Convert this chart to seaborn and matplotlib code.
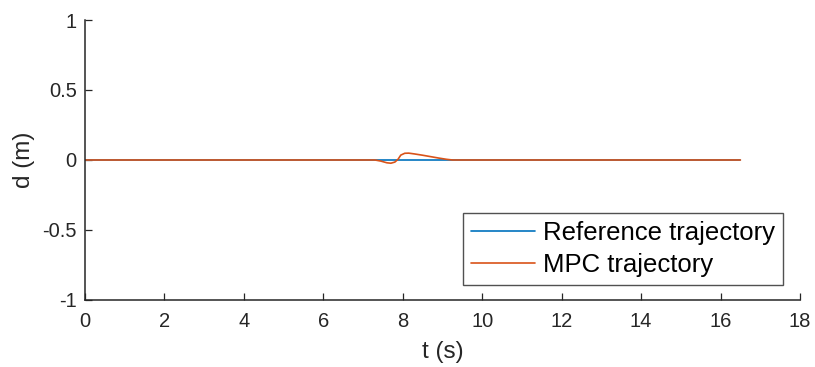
import matplotlib
matplotlib.use("Agg")
import matplotlib.pyplot as plt
import seaborn as sns
import pandas as pd

# Lateral deviation d over time t
ref_t = [0.0, 16.5]
ref_d = [0.0, 0.0]

mpc_t = [0.0, 7.3, 7.45, 7.6, 7.7, 7.8, 7.88, 7.95, 8.05, 8.15, 8.3, 8.5, 8.7, 8.9, 9.1, 9.25, 16.5]
mpc_d = [0.0, 0.0, -0.008, -0.02, -0.023, -0.015, 0.005, 0.035, 0.048, 0.049, 0.043, 0.034, 0.024, 0.014, 0.005, 0.0, 0.0]

x_ticks = [0, 2, 4, 6, 8, 10, 12, 14, 16, 18]
y_ticks = [-1, -0.5, 0, 0.5, 1]
y_tick_labels = ["-1", "-0.5", "0", "0.5", "1"]

sns.set_theme(style="ticks")
plt.rcParams["font.family"] = ["Liberation Sans", "DejaVu Sans"]

axis_color = "#262626"
blue = "#0072BD"
orange = "#D95319"

fig = plt.figure(figsize=(8.15, 3.67), dpi=100)
ax = fig.add_axes([0.1043, 0.1826, 0.8773, 0.7629])

ref_df = pd.DataFrame({"t": ref_t, "d": ref_d})
mpc_df = pd.DataFrame({"t": mpc_t, "d": mpc_d})
sns.lineplot(data=ref_df, x="t", y="d", ax=ax, color=blue, linewidth=1.2,
             label="Reference trajectory", sort=False)
sns.lineplot(data=mpc_df, x="t", y="d", ax=ax, color=orange, linewidth=1.2,
             label="MPC trajectory", sort=False)

ax.set_xlim(0, 18)
ax.set_ylim(-1, 1)
ax.set_xticks(x_ticks)
ax.set_xticklabels([str(v) for v in x_ticks])
ax.set_yticks(y_ticks)
ax.set_yticklabels(y_tick_labels)

for side in ("top", "right"):
    ax.spines[side].set_visible(False)
for side in ("left", "bottom"):
    ax.spines[side].set_color(axis_color)
    ax.spines[side].set_linewidth(1.1)

ax.tick_params(direction="in", length=5, width=0.9, colors=axis_color,
               labelsize=14.5, labelcolor=axis_color)
ax.tick_params(axis="x", pad=9)
ax.tick_params(axis="y", pad=6)

ax.set_xlabel("t (s)", fontsize=17.5, color=axis_color, labelpad=7)
ax.set_ylabel("d (m)", fontsize=17.5, color=axis_color, labelpad=5)

leg = ax.legend(loc="lower right", bbox_to_anchor=(0.976, 0.054),
                borderaxespad=0, fontsize=18.5, frameon=True, fancybox=False,
                handlelength=2.5, handletextpad=0.3, borderpad=0.3,
                labelspacing=0.32)
leg.get_frame().set_edgecolor(axis_color)
leg.get_frame().set_linewidth(1.0)
for txt in leg.get_texts():
    txt.set_color("black")

fig.savefig("out.png", dpi=100)
